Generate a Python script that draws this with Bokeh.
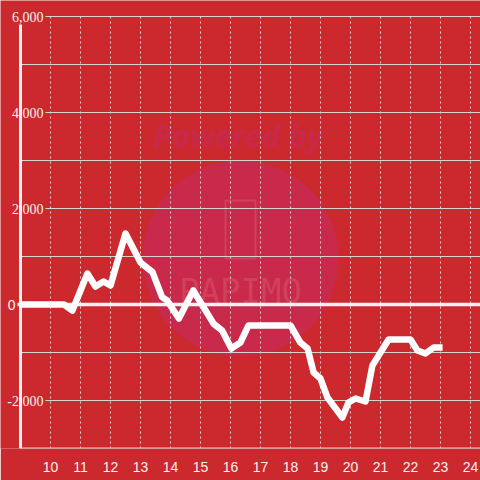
from bokeh.plotting import figure
from bokeh.models import Range1d, FixedTicker, LabelSet, Label, ColumnDataSource
from bokeh.embed import file_html
from bokeh.resources import INLINE

# ---- data ----
hours = [9.0, 10.45, 10.73, 11.23, 11.5, 11.77, 12.0, 12.5, 13.0, 13.4, 13.72, 13.89,
         14.28, 14.76, 15.44, 15.72, 16.03, 16.33, 16.6, 18.0, 18.33, 18.57, 18.77,
         19.0, 19.23, 19.73, 19.93, 20.17, 20.5, 20.73, 21.27, 22.0, 22.23, 22.5,
         22.77, 23.07]
values = [0, 0, -125, 646, 375, 479, 396, 1479, 875, 674, 153, 83,
          -292, 292, -403, -542, -917, -792, -437, -437, -792, -917, -1417,
          -1542, -1937, -2354, -2042, -1958, -2021, -1271, -729, -729, -958, -1021,
          -896, -896]
x_ticks = list(range(10, 25))
y_label_values = [6000, 4000, 2000, -2000]
y_label_texts = ["6,000", "4,000", "2,000", "-2,000"]
y_grid_values = [-2000, -1000, 1000, 2000, 3000, 4000, 5000, 6000]

BG = "#cc292e"
FG = "#f2f2f2"
GRID = "#d9d4d4"

W, H = 480, 480
BB = 32
px_x = 1.0 / 30          # hours per pixel
px_y = 1000.0 / 48       # value per pixel
X_AXIS = 9.0
X0 = X_AXIS - 20 * px_x
X1 = X0 + W * px_x
Y_BOTTOM, Y_TOP = -3000, 6000
Y0 = Y_BOTTOM
Y1 = Y_TOP + 16 * px_y

p = figure(width=W, height=H, output_backend="svg", toolbar_location=None,
           x_range=Range1d(X0, X1), y_range=Range1d(Y0, Y1),
           min_border_left=0, min_border_right=0, min_border_top=0, min_border_bottom=BB)
p.background_fill_color = BG
p.border_fill_color = BG
p.outline_line_color = None

# watermark
cx, cy = X_AXIS + 220 * px_x, 46 * px_y
p.scatter([cx], [cy], size=196, fill_color="#c9294a", line_color=None, level="underlay")
p.add_layout(Label(x=cx - 2 * px_x, y=170 * px_y, text="Powered by", text_align="center",
                   text_baseline="middle", text_font_size="31px", text_font_style="bold italic",
                   text_color="#c8294a", text_font="Open Sans", level="underlay"))
p.add_layout(Label(x=cx, y=14 * px_y, text="PAPIMO", text_align="center",
                   text_baseline="middle", text_font_size="34px",
                   text_color="#e0707f", text_alpha=0.35, text_font="DejaVu Sans Mono",
                   level="underlay"))
p.rect([cx], [75 * px_y], width=30 * px_x, height=58 * px_y, fill_color=None,
       line_color="#e0707f", line_alpha=0.35, line_width=2, level="underlay")

# grids
p.grid.visible = False
p.segment(x0=x_ticks, y0=[Y_BOTTOM] * len(x_ticks), x1=x_ticks, y1=[Y_TOP] * len(x_ticks),
          line_color=GRID, line_width=1, line_dash="2 3")
grid_start = [X_AXIS + (25 * px_x if v in y_label_values else 0) for v in y_grid_values]
p.segment(x0=grid_start, y0=y_grid_values,
          x1=[X1] * len(y_grid_values), y1=y_grid_values,
          line_color=GRID, line_width=1)
p.segment(x0=[X_AXIS], y0=[Y_BOTTOM], x1=[X1], y1=[Y_BOTTOM], line_color=GRID, line_width=2)
# zero line
p.segment(x0=[X_AXIS - 3 * px_x], y0=[0], x1=[X1], y1=[0], line_color=FG, line_width=3.5)
# value axis line
p.segment(x0=[X_AXIS], y0=[Y_BOTTOM], x1=[X_AXIS], y1=[Y_TOP - 8 * px_y],
          line_color=FG, line_width=3)

# axes
p.xaxis.ticker = FixedTicker(ticks=x_ticks)
p.xaxis.axis_line_color = None
p.xaxis.major_tick_line_color = None
p.xaxis.minor_tick_line_color = None
p.xaxis.major_label_standoff = 7
p.xaxis.major_label_text_font_size = "14px"
p.xaxis.major_label_text_color = FG
p.xaxis.major_label_text_font = "Liberation Sans"
p.yaxis.visible = False

src = ColumnDataSource(dict(y=y_label_values, t=y_label_texts,
                            x=[X_AXIS + 23 * px_x] * len(y_label_values)))
p.add_layout(LabelSet(x="x", y="y", text="t", source=src, text_align="right",
                      text_baseline="middle", text_font_size="14px", text_color=FG,
                      text_font="Liberation Sans"))
p.add_layout(Label(x=X_AXIS - 5 * px_x, y=0, text="0", text_align="right",
                   text_baseline="middle", text_font_size="14px", text_color=FG,
                   text_font="Liberation Sans"))

p.line(hours, values, line_color="#ffffff", line_width=6.5, line_join="round")

html = file_html(p, INLINE)
html = html.replace("<body>", '<body style="margin:0;background:%s;">' % BG, 1)
open("out.html", "w").write(html)
